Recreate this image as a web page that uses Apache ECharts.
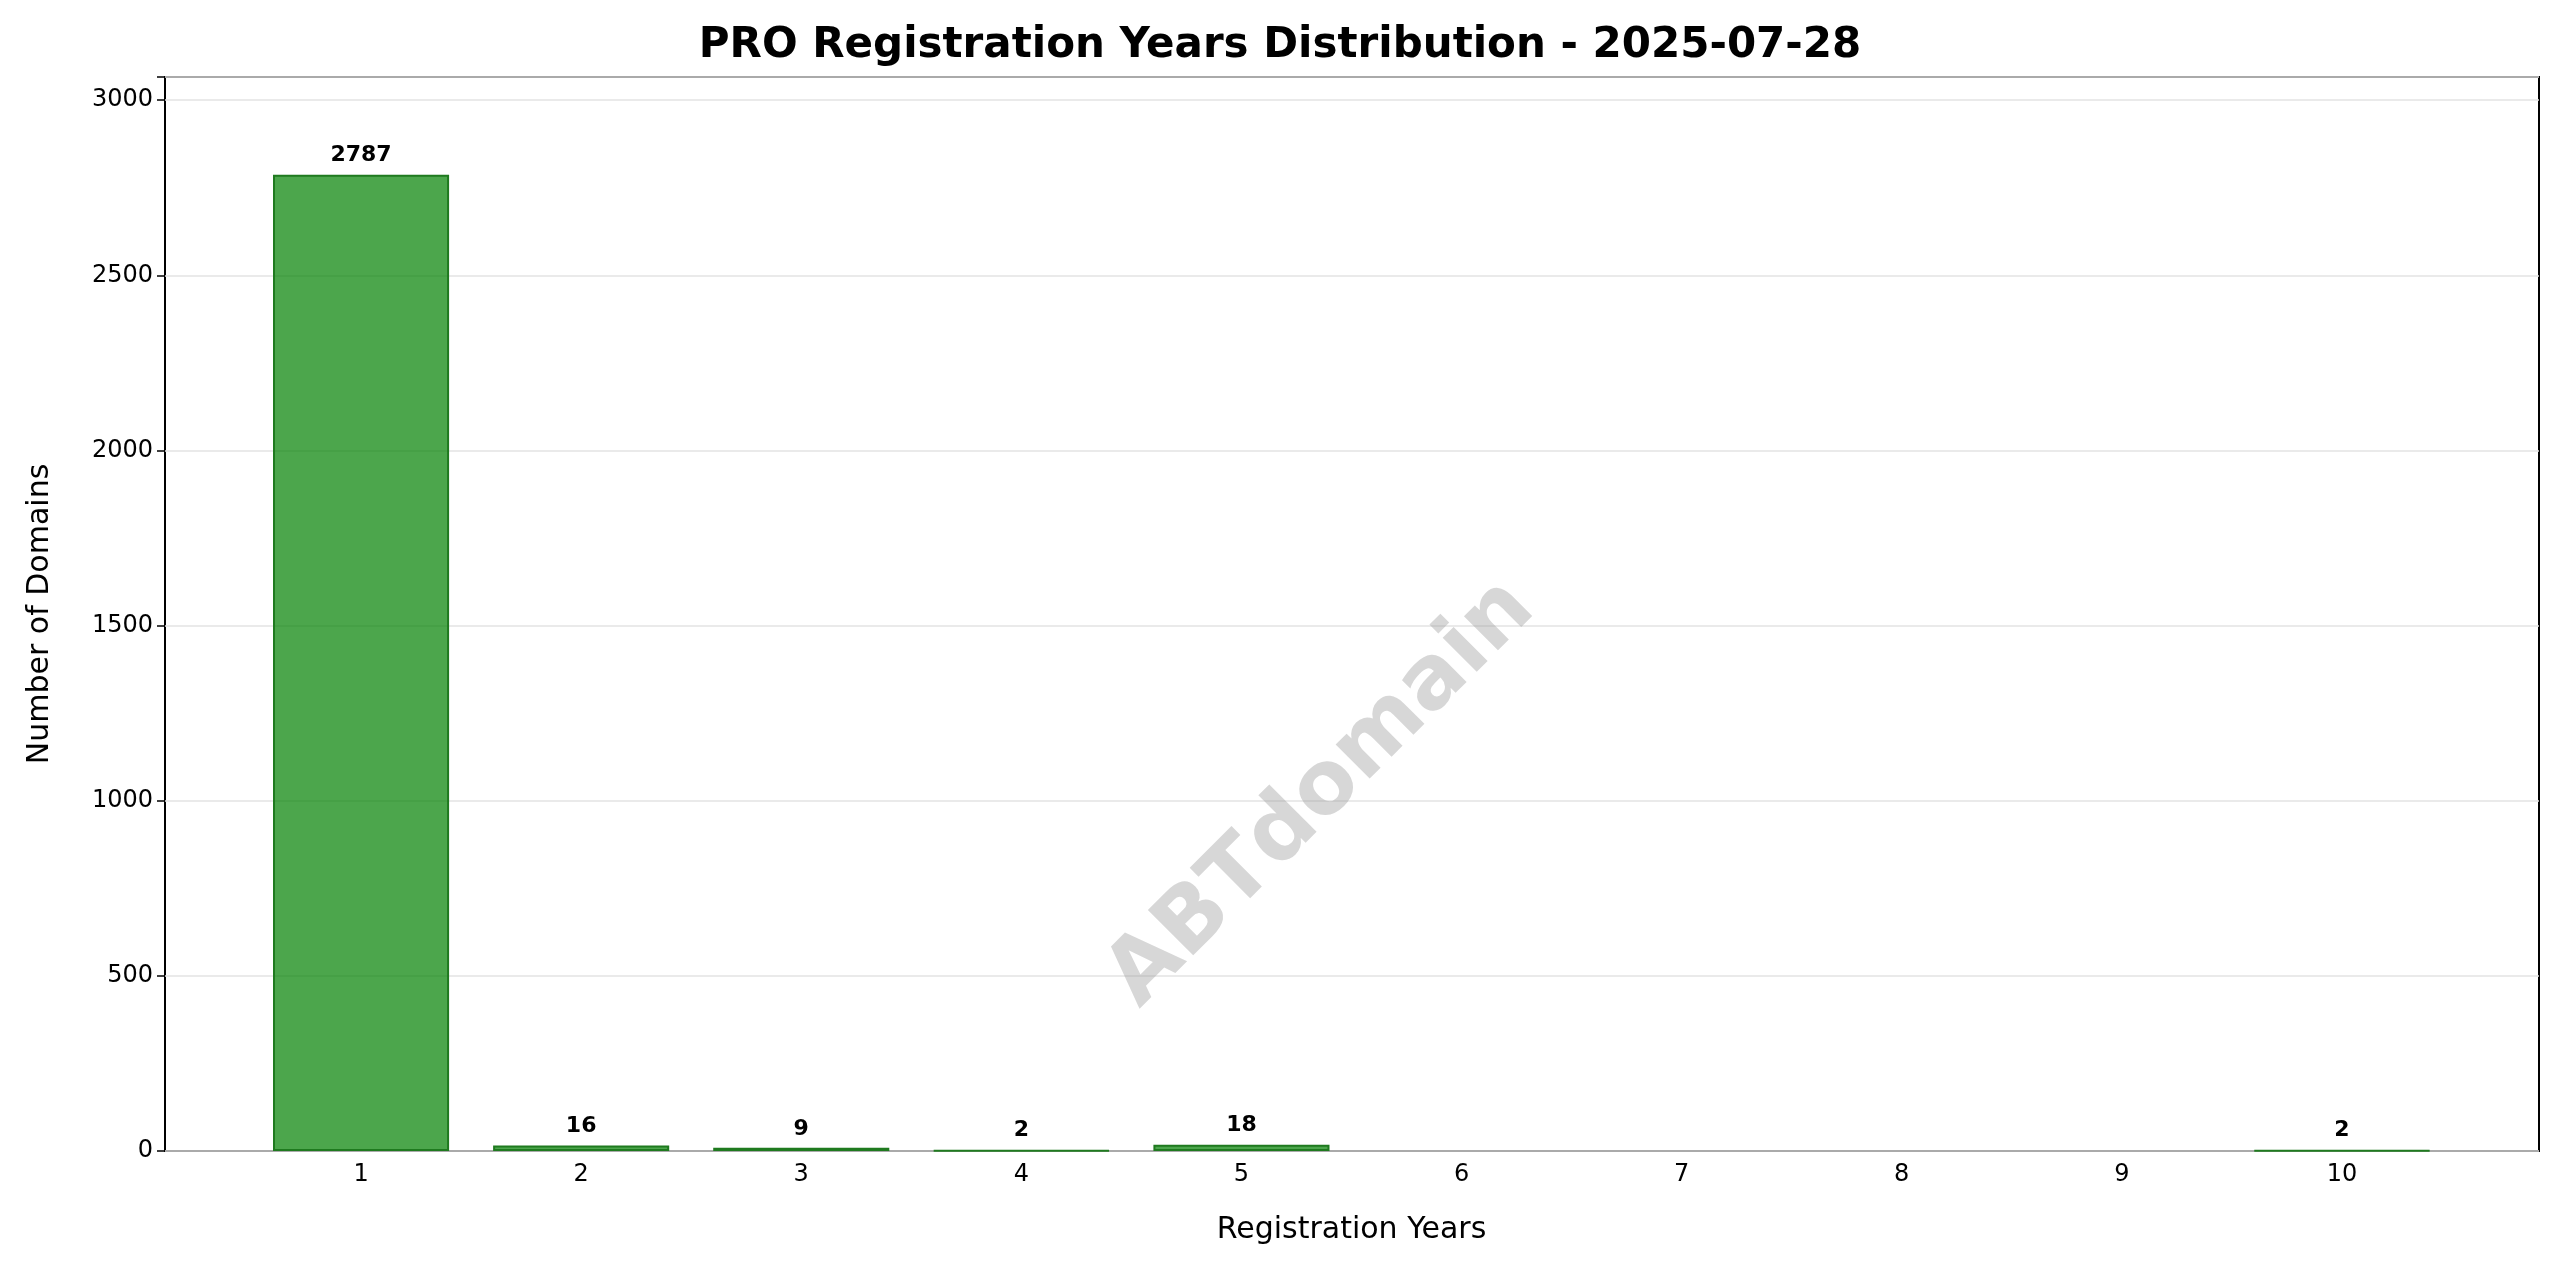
<!DOCTYPE html>
<html>
<head>
<meta charset="utf-8">
<script src="https://cdn.jsdelivr.net/npm/echarts@6/dist/echarts.min.js"></script>
<style>html,body{margin:0;padding:0;background:#fff}#chart{width:2560px;height:1271px}</style>
</head>
<body>
<div id="chart"></div>
<script>
var years = ['1', '2', '3', '4', '5', '6', '7', '8', '9', '10'];
var counts = [2787, 16, 9, 2, 18, 0, 0, 0, 0, 2];
var yTicks = [0, 500, 1000, 1500, 2000, 2500, 3000];
var yMax = 3066;

var font = 'DejaVu Sans';
var chart = echarts.init(document.getElementById('chart'));

var option = {
  animation: false,
  textStyle: { fontFamily: font },
  title: {
    text: 'PRO Registration Years Distribution - 2025-07-28',
    left: 'center', top: 20,
    textStyle: { fontFamily: font, fontSize: 42, fontWeight: 'bold', color: '#000' }
  },
  grid: [
    { left: 165, right: 21, top: 77, bottom: 120, show: true, borderColor: '#000', borderWidth: 2 },
    { left: 251, right: 108, top: 77, bottom: 120 }
  ],
  xAxis: [
    { gridIndex: 0, type: 'value', min: 0, max: 1, show: false },
    {
      gridIndex: 1, type: 'category', data: years, boundaryGap: true,
      name: 'Registration Years', nameLocation: 'middle', nameGap: 64,
      nameTextStyle: { fontSize: 30, color: '#000', fontFamily: font },
      axisLine: { show: false },
      axisTick: { alignWithLabel: true, length: 8, lineStyle: { color: '#000', width: 1.5 } },
      axisLabel: { fontSize: 24, color: '#000', margin: 12, fontFamily: font }
    }
  ],
  yAxis: [
    {
      gridIndex: 0, type: 'value', min: 0, max: yMax, interval: 500,
      name: 'Number of Domains', nameLocation: 'middle', nameGap: 110,
      nameTextStyle: { fontSize: 30, color: '#000', fontFamily: font },
      axisLine: { show: false },
      axisTick: { show: true, length: 8, lineStyle: { color: '#000', width: 1.5 } },
      axisLabel: {
        fontSize: 24, color: '#000', margin: 12, fontFamily: font,
        formatter: function (v) { return yTicks.indexOf(v) >= 0 ? String(v) : ''; }
      },
      splitLine: { show: true, lineStyle: { color: '#e3e3e3', width: 1.5 } }
    },
    { gridIndex: 1, type: 'value', min: 0, max: yMax, show: false }
  ],
  graphic: [{
    type: 'text', left: 1352 - 260, top: 612 - 48, rotation: Math.PI * 45 / 180,
    originX: 260, originY: 48,
    style: { text: 'ABTdomain', fontSize: 88, fontWeight: 'bold', fontFamily: font, fill: 'rgba(150,150,150,0.38)' },
    z: 100
  }],
  series: [{
    type: 'bar', xAxisIndex: 1, yAxisIndex: 1,
    data: counts.map(function (v) { return v === 0 ? null : v; }),
    barWidth: '80%',
    itemStyle: { color: 'rgba(0,128,0,0.7)', borderColor: '#1f7a1f', borderWidth: 2 },
    label: {
      show: true, position: 'top', distance: 8,
      fontSize: 22, fontWeight: 'bold', color: '#000', fontFamily: font
    }
  }]
};
chart.setOption(option);
</script>
</body>
</html>
